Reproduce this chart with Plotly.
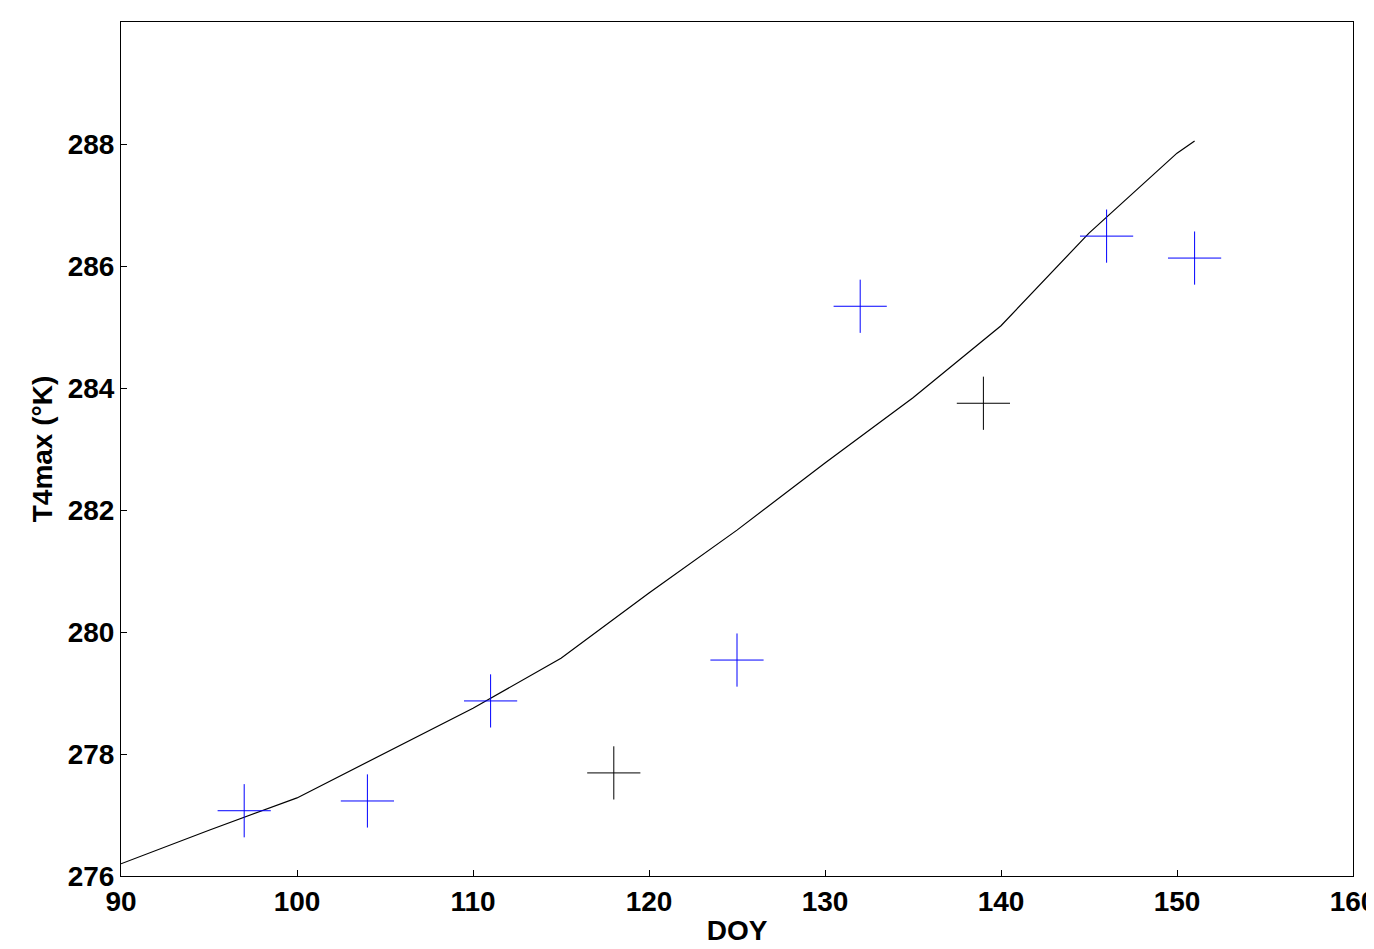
import plotly.graph_objects as go

curve_x = [90, 95, 100, 105, 110, 115, 120, 125, 130, 135, 140, 145, 150, 151]
curve_y = [276.2, 276.75, 277.28, 278.02, 278.75, 279.57, 280.64, 281.67, 282.77, 283.84, 285.02, 286.54, 287.85, 288.05]
blue_x = [97, 104, 111, 125, 132, 146, 151]
blue_y = [277.07, 277.23, 278.87, 279.54, 285.34, 286.49, 286.13]
black_x = [118, 139]
black_y = [277.69, 283.75]
x_ticks = [90, 100, 110, 120, 130, 140, 150, 160]
y_ticks = [276, 278, 280, 282, 284, 286, 288, 290]

fig = go.Figure()
fig.add_trace(go.Scatter(x=curve_x, y=curve_y, mode='lines', line=dict(color='black', width=1.2)))
fig.add_trace(go.Scatter(x=blue_x, y=blue_y, mode='markers',
    marker=dict(symbol='cross-thin-open', size=38, color='blue', line=dict(color='blue', width=1))))
fig.add_trace(go.Scatter(x=black_x, y=black_y, mode='markers',
    marker=dict(symbol='cross-thin-open', size=38, color='black', line=dict(color='black', width=1))))

font = dict(family='Liberation Sans, Arial', size=28, color='black')
ax = dict(showgrid=False, zeroline=False, showline=True, mirror=True, linecolor='black', linewidth=1,
          ticks='inside', ticklen=6, tickcolor='black', automargin=False, tickfont=font)
fig.update_layout(
    width=1374, height=949, showlegend=False, plot_bgcolor='white', paper_bgcolor='white',
    margin=dict(l=113, r=29, t=14, b=81),
    xaxis=dict(ax, range=[90, 160], tickvals=x_ticks, ticktext=[f'<b>{v}</b>' for v in x_ticks],
               title=dict(text='<b>DOY</b>', font=font, standoff=4)),
    yaxis=dict(ax, range=[276, 290], tickvals=y_ticks, ticktext=[f'<b>{v}</b>' for v in y_ticks],
               title=dict(text='<b>T4max (°K)</b>', font=font, standoff=6)),
)
fig.write_html('out.html')
